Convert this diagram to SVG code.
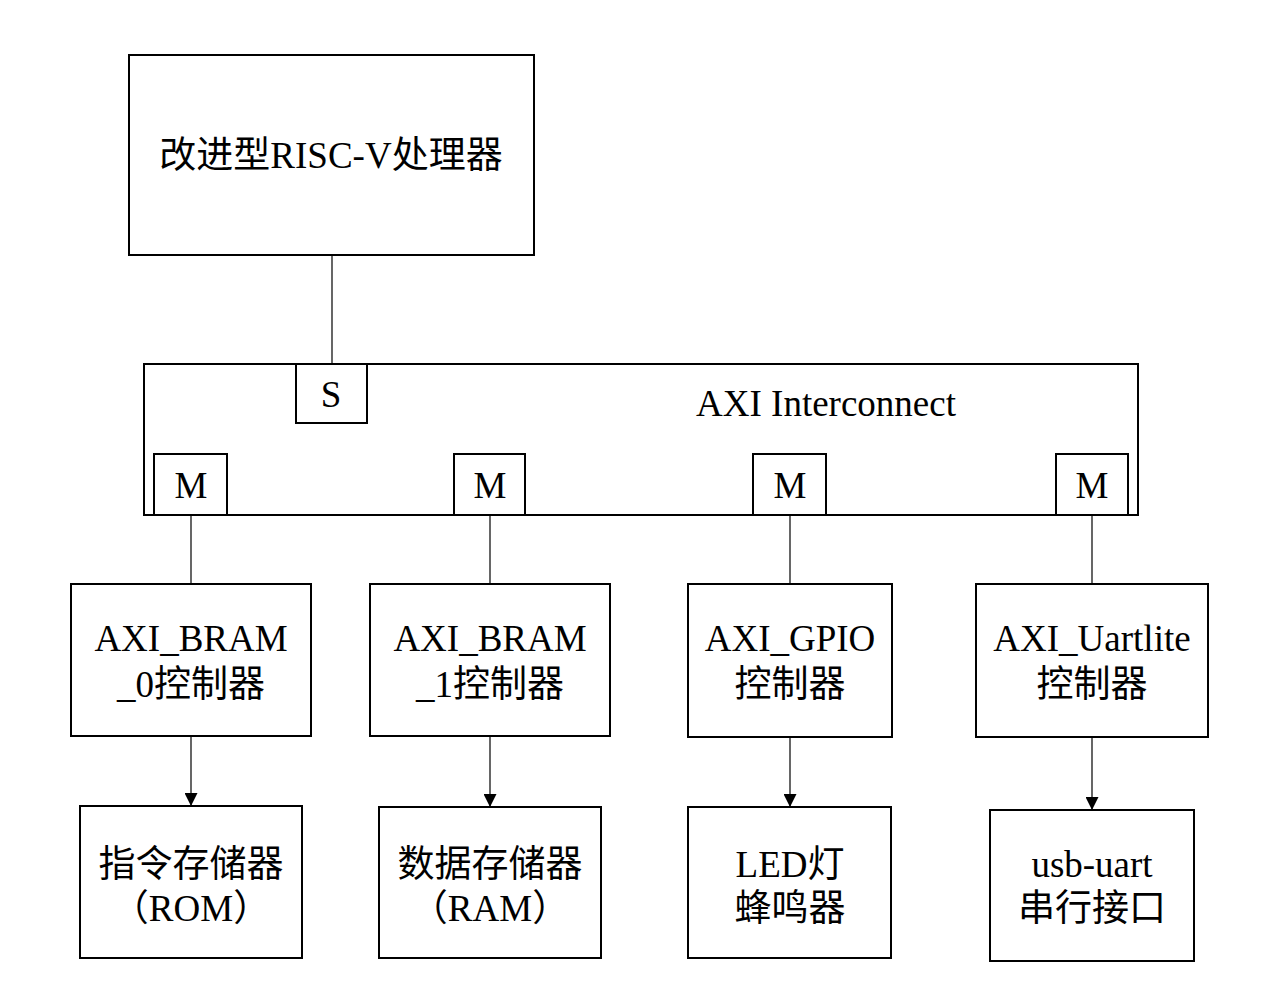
<svg xmlns="http://www.w3.org/2000/svg" width="1282" height="993" viewBox="0 0 1282 993">
<style>
.box{fill:#fff;stroke:#000;stroke-width:2}
.port{fill:#fff;stroke:#000;stroke-width:2}
.ln{stroke:#000;stroke-width:1.2;fill:none}
text{font-family:"Liberation Serif","Noto Sans CJK SC",serif;font-size:37px;fill:#000;text-anchor:middle;text-spacing-trim:space-all;font-kerning:none}
</style>
<defs>
<marker id="ah" markerWidth="12" markerHeight="13" refX="13" refY="6.5" orient="auto" markerUnits="userSpaceOnUse">
<path d="M0,0 L13,6.5 L0,13 Z" fill="#000"/>
</marker>
</defs>
<rect width="1282" height="993" fill="#fff"/>
<g id="connectors">
<line class="ln" x1="332" y1="256" x2="332" y2="364"/>
<line class="ln" x1="191" y1="515" x2="191" y2="584"/>
<line class="ln" x1="490" y1="515" x2="490" y2="584"/>
<line class="ln" x1="790" y1="515" x2="790" y2="584"/>
<line class="ln" x1="1092" y1="515" x2="1092" y2="584"/>
<line class="ln" x1="191" y1="737" x2="191" y2="806" marker-end="url(#ah)"/>
<line class="ln" x1="490" y1="737" x2="490" y2="807" marker-end="url(#ah)"/>
<line class="ln" x1="790" y1="738" x2="790" y2="807" marker-end="url(#ah)"/>
<line class="ln" x1="1092" y1="738" x2="1092" y2="810" marker-end="url(#ah)"/>
</g>
<g id="cpu">
<rect class="box" x="129" y="55" width="405" height="200"/>
<text x="331" y="168">改进型RISC-V处理器</text>
</g>
<g id="interconnect">
<rect class="box" x="144" y="364" width="994" height="151"/>
<text x="826" y="416">AXI Interconnect</text>
</g>
<g id="port-s">
<rect class="port" x="296" y="364" width="71" height="59"/>
<text x="331" y="407">S</text>
</g>
<g id="port-m0">
<rect class="port" x="154" y="454" width="73" height="61"/>
<text x="191" y="498">M</text>
</g>
<g id="port-m1">
<rect class="port" x="454" y="454" width="71" height="61"/>
<text x="490" y="498">M</text>
</g>
<g id="port-m2">
<rect class="port" x="753" y="454" width="73" height="61"/>
<text x="790" y="498">M</text>
</g>
<g id="port-m3">
<rect class="port" x="1056" y="454" width="72" height="61"/>
<text x="1092" y="498">M</text>
</g>
<g id="bram0">
<rect class="box" x="71" y="584" width="240" height="152"/>
<text x="191" y="651">AXI_BRAM</text>
<text x="191" y="697">_0控制器</text>
</g>
<g id="bram1">
<rect class="box" x="370" y="584" width="240" height="152"/>
<text x="490" y="651">AXI_BRAM</text>
<text x="490" y="697">_1控制器</text>
</g>
<g id="gpio">
<rect class="box" x="688" y="584" width="204" height="153"/>
<text x="790" y="651">AXI_GPIO</text>
<text x="790" y="697">控制器</text>
</g>
<g id="uart">
<rect class="box" x="976" y="584" width="232" height="153"/>
<text x="1092" y="651">AXI_Uartlite</text>
<text x="1092" y="697">控制器</text>
</g>
<g id="rom">
<rect class="box" x="80" y="806" width="222" height="152"/>
<text x="191" y="877">指令存储器</text>
<text x="191" y="921">（ROM）</text>
</g>
<g id="ram">
<rect class="box" x="379" y="807" width="222" height="151"/>
<text x="490" y="877">数据存储器</text>
<text x="490" y="921">（RAM）</text>
</g>
<g id="led">
<rect class="box" x="688" y="807" width="203" height="151"/>
<text x="790" y="877">LED灯</text>
<text x="790" y="921">蜂鸣器</text>
</g>
<g id="usb">
<rect class="box" x="990" y="810" width="204" height="151"/>
<text x="1092" y="877">usb-uart</text>
<text x="1092" y="921">串行接口</text>
</g>
</svg>
